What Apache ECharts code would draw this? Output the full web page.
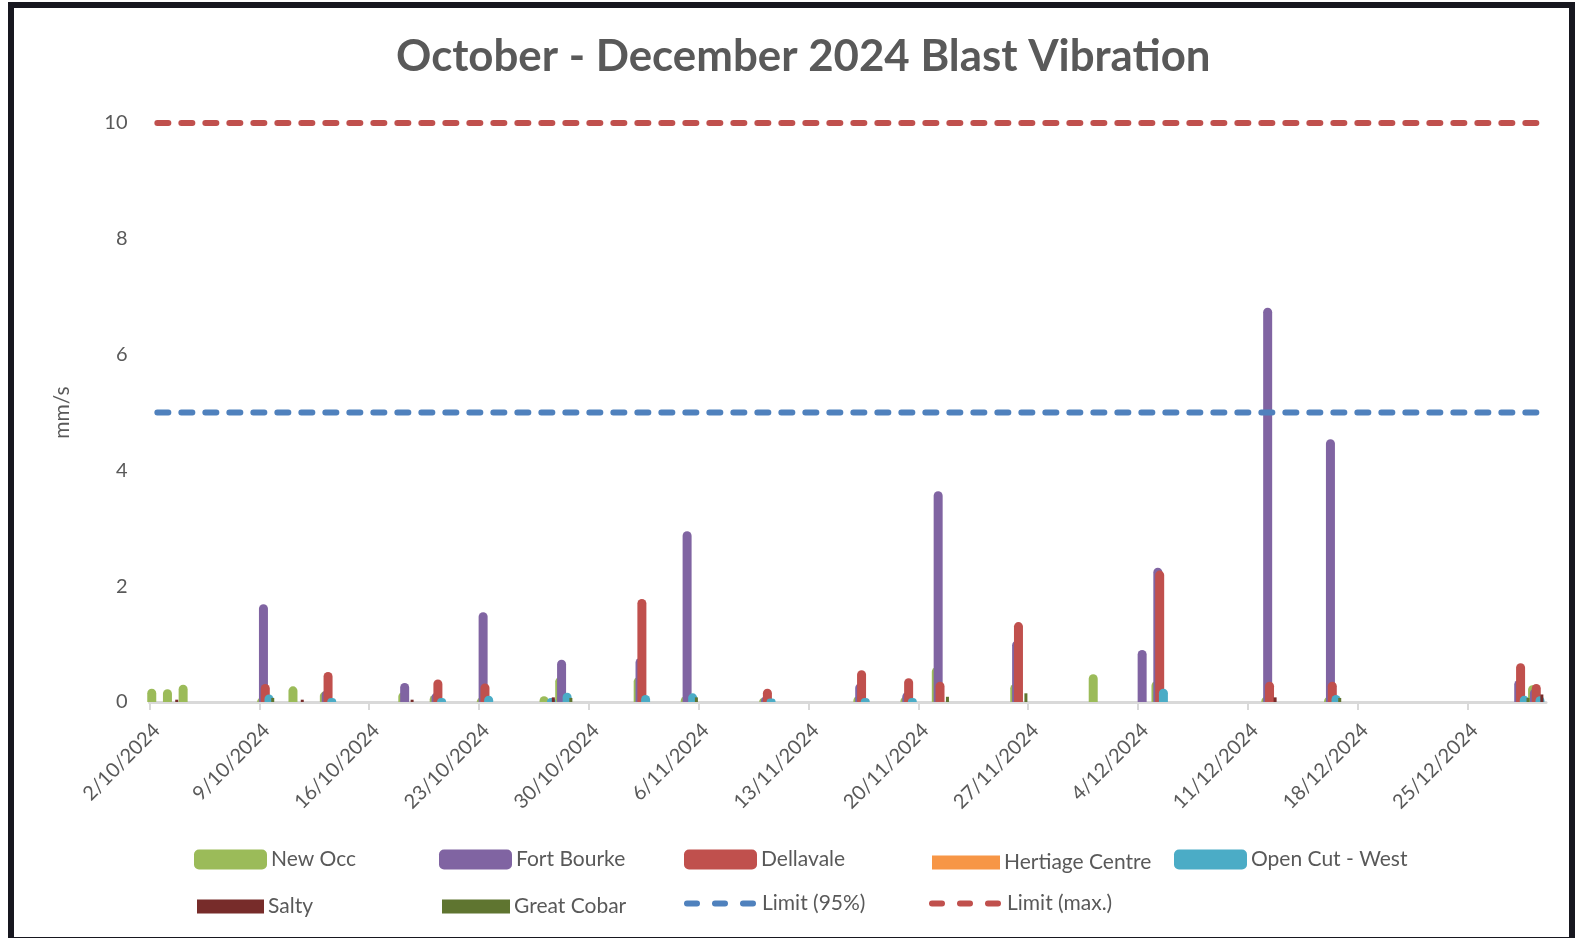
<!DOCTYPE html>
<html lang="en">
<head>
    <meta charset="UTF-8">
    <title>Blast Vibration</title>
    <script src="https://cdn.jsdelivr.net/npm/echarts@6/dist/echarts.min.js"></script>
    <style>
        html, body {
            margin: 0;
            padding: 0;
            background: #fff;
        }

        #main {
            width: 1575px;
            height: 938px;
        }

        .frame {
            position: absolute;
            left: 8px;
            top: 2px;
            width: 1567px;
            height: 941px;
            box-sizing: border-box;
            border: 6px solid #17171f;
            pointer-events: none;
        }
    </style>
</head>
<body>
<div id="main"></div>
<div class="frame"></div>
<script>
    // blast dates (d/m/yyyy)
    var dates = ['2/10/2024', '3/10/2024', '4/10/2024', '9/10/2024', '11/10/2024', '13/10/2024',
        '18/10/2024', '20/10/2024', '23/10/2024', '27/10/2024', '28/10/2024', '2/11/2024',
        '5/11/2024', '10/11/2024', '16/11/2024', '19/11/2024', '21/11/2024', '26/11/2024',
        '1/12/2024', '4/12/2024', '5/12/2024', '12/12/2024', '16/12/2024', '28/12/2024', '29/12/2024'];

    // peak vibration, mm/s (null = not recorded)
    var newOcc = [0.23, 0.22, 0.30, 0.08, 0.27, 0.18, 0.17, 0.12, 0.08, 0.10, 0.43, 0.43,
        0.10, 0.07, 0.10, 0.09, 0.60, 0.31, 0.48, null, 0.36, 0.09, 0.09, null, 0.29];
    var fortBourke = [null, null, null, 1.69, null, 0.20, 0.33, 0.16, 1.55, null, 0.73, 0.76,
        2.95, 0.10, 0.32, 0.17, 3.64, 1.06, null, 0.90, 2.32, 6.81, 4.54, 0.38, 0.23];
    var dellavale = [null, null, null, 0.31, null, 0.52, null, 0.39, 0.32, null, null, 1.78,
        null, 0.23, 0.55, 0.41, 0.35, 1.38, null, null, 2.27, 0.35, 0.35, 0.67, 0.31];
    var hertiage = [null, null, null, null, null, null, null, null, null, null, null, null,
        null, null, null, null, null, null, null, null, null, null, null, null, null];
    var openCutWest = [null, null, null, 0.13, null, 0.07, null, 0.07, 0.11, 0.07, 0.16, 0.12,
        0.15, 0.06, 0.07, 0.07, null, null, null, null, 0.23, null, 0.12, 0.11, 0.10];
    var salty = [null, 0.04, null, null, 0.04, null, 0.04, null, null, 0.08, null, null,
        null, null, null, null, null, null, null, null, null, 0.08, null, null, 0.13];
    var greatCobar = [null, null, null, 0.07, null, null, null, null, null, null, 0.07, null,
        0.08, null, null, null, 0.09, 0.15, null, null, null, null, 0.07, 0.07, null];

    var limit95 = 5;
    var limitMax = 10;

    var tickLabels = ['2/10/2024', '9/10/2024', '16/10/2024', '23/10/2024', '30/10/2024', '6/11/2024',
        '13/11/2024', '20/11/2024', '27/11/2024', '4/12/2024', '11/12/2024', '18/12/2024', '25/12/2024'];
    var axisEnd = '30/12/2024';

    var DAY = 86400000;
    var start = toTime(dates[0]);

    function toTime(s) {
        var p = s.split('/');
        return Date.UTC(+p[2], +p[1] - 1, +p[0]);
    }

    function dayOf(s) {
        return Math.round((toTime(s) - start) / DAY);
    }

    function fmt(day) {
        var d = new Date(start + Math.round(day) * DAY);
        return d.getUTCDate() + '/' + (d.getUTCMonth() + 1) + '/' + d.getUTCFullYear();
    }

    // excel centres each day's cluster between its tick marks; the outlined
    // series fill the left of the cluster, the thin ones the right end
    var slotWide = 0.38;
    var slotThin = 0.795;

    function pairs(vals, slot) {
        var out = [];
        for (var i = 0; i < dates.length; i++) {
            if (vals[i] != null) out.push([dayOf(dates[i]) + slot, vals[i]]);
        }
        return out;
    }

    function wideBar(name, vals, color) {
        return {
            name: name,
            type: 'bar',
            xAxisIndex: 0,
            barWidth: 9,
            barGap: '-79.4%',
            barMinHeight: 3,
            data: pairs(vals, slotWide),
            itemStyle: {color: color, borderRadius: [4.5, 4.5, 0, 0]},
            emphasis: {disabled: true}
        };
    }

    function thinBar(name, vals, color) {
        return {
            name: name,
            type: 'bar',
            xAxisIndex: 1,
            barWidth: 3,
            barGap: '-38%',
            data: pairs(vals, slotThin),
            itemStyle: {color: color},
            emphasis: {disabled: true}
        };
    }

    function limitLine(name, value, color) {
        return {
            name: name,
            type: 'line',
            symbol: 'none',
            data: [[dayOf(dates[0]) + 0.5, value], [dayOf(dates[dates.length - 1]) + 0.5, value]],
            lineStyle: {color: color, width: 6, type: [11, 13], cap: 'round'},
            itemStyle: {color: color},
            z: 5
        };
    }

    var font = 'Lato, "Open Sans", sans-serif';
    var grey = '#595959';

    function legendItem(name, left, top, w, h, icon) {
        return {
            data: [icon ? {name: name, icon: icon} : name],
            left: left,
            top: top,
            itemWidth: w,
            itemHeight: h,
            padding: 0,
            selectedMode: false,
            textStyle: {fontSize: 21, color: grey, fontFamily: font, padding: [0, 0, 0, -1]}
        };
    }

    function legendLine(name, left, top) {
        var item = legendItem(name, left, top, 66, 20);
        item.itemStyle = {opacity: 0, borderWidth: 0};
        item.lineStyle = {width: 6, type: [10, 18], cap: 'round'};
        item.textStyle.padding = [0, 0, 0, 4];
        return item;
    }

    var tickDays = tickLabels.map(dayOf);

    var myChart = echarts.init(document.getElementById('main'));
    var option = {
        animation: false,
        title: {
            text: 'October - December 2024 Blast Vibration',
            left: 391,
            top: 30,
            textStyle: {fontSize: 43.8, fontWeight: 'bold', color: grey, fontFamily: font}
        },
        grid: {left: 149.5, right: 29, top: 123, bottom: 236},
        xAxis: [{
            type: 'value',
            min: 0,
            max: dayOf(axisEnd),
            splitLine: {show: false},
            axisLine: {lineStyle: {color: '#d9d9d9', width: 3}},
            axisTick: {show: true, length: 8, lineStyle: {color: '#d9d9d9', width: 2}, customValues: tickDays},
            axisLabel: {
                customValues: tickDays,
                rotate: 45,
                margin: 18,
                verticalAlign: 'top',
                fontSize: 20,
                color: grey,
                fontFamily: font,
                formatter: function (v) {
                    return fmt(v);
                }
            }
        }, {
            type: 'value',
            min: 0,
            max: dayOf(axisEnd),
            show: false
        }],
        yAxis: {
            type: 'value',
            min: 0,
            max: 10,
            interval: 2,
            name: 'mm/s',
            nameLocation: 'middle',
            nameGap: 77,
            nameTextStyle: {fontSize: 21, color: grey, fontFamily: font},
            splitLine: {show: false},
            axisLine: {show: false},
            axisTick: {show: false},
            axisLabel: {fontSize: 20, color: grey, fontFamily: font, margin: 22}
        },
        legend: [
            legendItem('New Occ', 194, 849, 73, 20),
            legendItem('Fort Bourke', 439, 849, 73, 20),
            legendItem('Dellavale', 684, 849, 73, 20),
            legendItem('Hertiage Centre', 932, 852, 68, 14, 'rect'),
            legendItem('Open Cut - West', 1174, 849, 73, 20),
            legendItem('Salty', 197, 896, 67, 14, 'rect'),
            legendItem('Great Cobar', 442, 896, 68, 14, 'rect'),
            legendLine('Limit (95%)', 684, 893),
            legendLine('Limit (max.)', 929, 893)
        ],
        series: [
            wideBar('New Occ', newOcc, '#9BBB59'),
            wideBar('Fort Bourke', fortBourke, '#8064A2'),
            wideBar('Dellavale', dellavale, '#C0504D'),
            wideBar('Hertiage Centre', hertiage, '#F79646'),
            wideBar('Open Cut - West', openCutWest, '#4BACC6'),
            thinBar('Salty', salty, '#772C2A'),
            thinBar('Great Cobar', greatCobar, '#5F7530'),
            limitLine('Limit (95%)', limit95, '#4F81BD'),
            limitLine('Limit (max.)', limitMax, '#C0504D')
        ]
    };
    myChart.setOption(option);
</script>
</body>
</html>
